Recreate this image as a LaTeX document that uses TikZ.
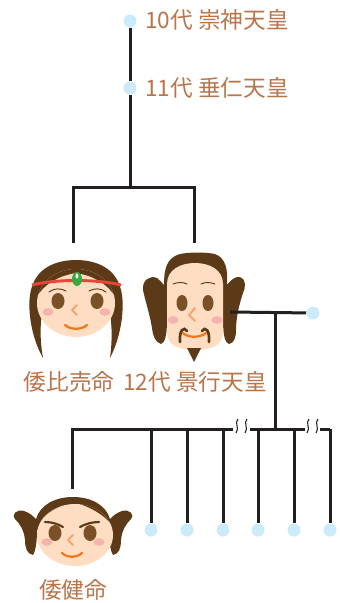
\documentclass[tikz,border=0pt]{standalone}
\usepackage{fontspec}
\newfontfamily\jp{Noto Sans CJK JP}
\definecolor{linec}{RGB}{35,31,32}
\definecolor{dotc}{RGB}{204,235,250}
\definecolor{textc}{RGB}{184,117,74}
\definecolor{hairc}{RGB}{92,58,23}
\definecolor{skinc}{RGB}{255,221,194}
\definecolor{eyec}{RGB}{122,80,38}
\definecolor{cheekc}{RGB}{246,178,172}
\definecolor{mouthc}{RGB}{242,120,28}
\definecolor{nosec}{RGB}{245,165,110}
\definecolor{bandc}{RGB}{232,70,55}
\definecolor{gemc}{RGB}{55,170,60}
\tikzset{
  link/.style={draw=linec, line width=2.25pt},
  dot/.style={circle, fill=dotc, inner sep=0pt, minimum size=9.75pt},
  lbl/.style={text=textc, inner sep=0pt, font=\jp\fontsize{17}{20}\selectfont},
  wave/.style={draw=linec, line width=0.8pt},
  brow/.style={draw=hairc, line width=0.7pt, line cap=round},
  nose/.style={draw=nosec, line width=1.5pt, line cap=round, line join=round},
  mouth/.style={draw=mouthc, line width=1.7pt, line cap=round},
}
\begin{document}
\begin{tikzpicture}[x=0.75pt,y=-0.75pt]
\useasboundingbox (0,0) rectangle (339,603);

% ---------- upper generations ----------
\node[dot] (g10) at (130,21) {};
\node[lbl, anchor=west] (n10) at (145,20) {10代 崇神天皇};
\node[dot] (g11) at (130,88) {};
\node[lbl, anchor=west] (n11) at (145,88) {11代 垂仁天皇};
\coordinate (j1) at (130,187);
\coordinate (hL) at (73,187);
\coordinate (hR) at (194,187);
\coordinate (hime) at (73,243);
\coordinate (kei) at (194,243);
\draw[link] (g10) -- (g11) -- (j1);
\draw[link] (hime) -- (hL) -- (hR) -- (kei);

% ---------- Yamatohime face ----------
\fill[hairc] (43,358) .. controls (30,335) and (27,305) .. (31,290)
  .. controls (36,268) and (56,260) .. (76,260)
  .. controls (96,260) and (116,268) .. (121,290)
  .. controls (125,305) and (122,335) .. (110,358)
  .. controls (113,335) and (112,315) .. (106,300) -- (46,300)
  .. controls (40,315) and (39,335) .. (43,358) -- cycle;
\fill[skinc] (76,303) ellipse [x radius=39, y radius=34];
\begin{scope}
  \clip (76,303) ellipse [x radius=39, y radius=34];
  \fill[hairc] (36,298) .. controls (45,282) and (62,275) .. (76,273)
    .. controls (90,275) and (107,282) .. (116,298) -- (120,260) -- (32,260) -- cycle;
\end{scope}
\draw[bandc, line width=2.2pt] (32,285) .. controls (55,279) and (97,279) .. (121,285);
\fill[gemc] (77,279) ellipse [x radius=5, y radius=7];
\fill[white] (77,276) ellipse [x radius=1.4, y radius=2.6];
\draw[brow] (49,292) .. controls (54,288) and (61,288) .. (66,291);
\draw[brow] (89,291) .. controls (94,288) and (101,288) .. (106,292);
\fill[eyec] (58,301) ellipse [x radius=6.5, y radius=8];
\fill[eyec] (97,301) ellipse [x radius=6.5, y radius=8];
\fill[cheekc] (48,312) ellipse [x radius=5.5, y radius=3.8];
\fill[cheekc] (105,312) ellipse [x radius=5.5, y radius=3.8];
\draw[nose] (77,305) -- (72,310) -- (77,315);
\draw[mouth] (65,325) .. controls (70,330) and (82,330) .. (87,325);

% ---------- Keiko face ----------
\fill[hairc] (161,344) .. controls (155,342) and (153,336) .. (152,328)
  .. controls (150,315) and (145,300) .. (143,290)
  .. controls (142,280) and (150,275) .. (157,278)
  .. controls (160,280) and (162,283) .. (164,285)
  .. controls (164,270) and (166,258) .. (180,254)
  .. controls (190,252) and (205,252) .. (215,254)
  .. controls (226,258) and (228,270) .. (227,285)
  .. controls (230,281) and (235,276) .. (240,277)
  .. controls (246,279) and (246,287) .. (243,293)
  .. controls (239,305) and (236,318) .. (236,330)
  .. controls (236,338) and (234,343) .. (229,344)
  .. controls (225,343) and (223,335) .. (223,320) -- (167,320)
  .. controls (167,335) and (165,343) .. (161,344) -- cycle;
\fill[skinc] (167,300) -- (167,284) .. controls (167,270) and (180,263) .. (195,263)
  .. controls (210,263) and (223,270) .. (223,284) -- (223,332)
  .. controls (223,345) and (212,350) .. (195,350)
  .. controls (178,350) and (167,345) .. (167,332) -- cycle;
\draw[brow] (173,284) .. controls (178,282) and (183,282) .. (187,284);
\draw[brow] (201,284) .. controls (205,282) and (210,282) .. (215,284);
\fill[eyec] (182,303) ellipse [x radius=5.5, y radius=8];
\fill[eyec] (208,303) ellipse [x radius=5.5, y radius=8];
\fill[cheekc] (173,320) ellipse [x radius=5.5, y radius=3.8];
\fill[cheekc] (217,320) ellipse [x radius=5.5, y radius=3.8];
\draw[nose] (195,308) -- (189,315) -- (195,321);
\draw[mouth] (183,333) .. controls (188,338) and (200,338) .. (206,333);
\draw[hairc, line width=2pt, line cap=round] (187,331) .. controls (184,326) and (179,330) .. (180,342);
\draw[hairc, line width=2pt, line cap=round] (202,331) .. controls (205,326) and (210,330) .. (209,342);
\fill[hairc] (187,348) -- (201,348) -- (194,362) -- cycle;

\node[lbl] (nhime) at (69,382) {倭比売命};
\node[lbl] (nkei) at (195,382) {12代 景行天皇};

% ---------- consort and children ----------
\coordinate (keiR) at (230,312);
\node[dot] (wife) at (313,313) {};
\draw[link] (keiR) -- (wife);
\coordinate (j2) at (275,312);
\coordinate (j3) at (275,429);
\draw[link] (j2) -- (j3);

\coordinate (take) at (72,489);
\coordinate (bL) at (72,429);
\coordinate (bR) at (330,429);
\draw[link] (take) -- (bL) -- (233,429);
\draw[link] (250,429) -- (305,429);
\draw[link] (320,429) -- (bR);
\foreach \x in {237,246,308,317}
  \draw[wave] (\x+1,419) .. controls (\x-3,423) and (\x+3,428) .. (\x-1,433);

\foreach \x [count=\i] in {151,187,223,258,294,330} {
  \node[dot] (c\i) at (\x,530) {};
  \coordinate (b\i) at (\x,429);
  \draw[link] (b\i) -- (c\i);
}

% ---------- Yamatotakeru face ----------
\fill[hairc] (33,555) .. controls (27,554) and (25,548) .. (25,540)
  .. controls (24,530) and (20,524) .. (15,519)
  .. controls (11,514) and (17,509) .. (24,511)
  .. controls (30,513) and (33,516) .. (36,519)
  .. controls (40,505) and (55,497) .. (73,497)
  .. controls (91,497) and (106,505) .. (110,519)
  .. controls (113,516) and (116,513) .. (122,511)
  .. controls (129,509) and (135,514) .. (131,519)
  .. controls (126,524) and (122,530) .. (121,540)
  .. controls (121,548) and (119,554) .. (113,555)
  .. controls (110,550) and (109,540) .. (109,530) -- (37,530)
  .. controls (37,540) and (36,550) .. (33,555) -- cycle;
\fill[skinc] (75,535) ellipse [x radius=38, y radius=31];
\begin{scope}
  \clip (75,535) ellipse [x radius=38, y radius=31];
  \fill[hairc] (37,526) .. controls (45,511) and (62,505) .. (73,502)
    .. controls (84,505) and (101,511) .. (113,526) -- (115,495) -- (35,495) -- cycle;
\end{scope}
\draw[hairc, line width=1.6pt, line cap=round] (45,522) .. controls (52,522) and (58,524) .. (63,527);
\draw[hairc, line width=1.6pt, line cap=round] (80,527) .. controls (85,524) and (92,522) .. (99,522);
\fill[eyec] (55,533) ellipse [x radius=6.5, y radius=8];
\fill[eyec] (90,533) ellipse [x radius=6.5, y radius=8];
\fill[cheekc] (47,542) ellipse [x radius=5.5, y radius=3.8];
\fill[cheekc] (99,542) ellipse [x radius=5.5, y radius=3.8];
\draw[nose] (73,535) -- (68,540) -- (73,545);
\draw[mouth] (62,553) .. controls (67,558) and (77,558) .. (82,553);

\node[lbl] (ntake) at (73,590) {倭健命};
\end{tikzpicture}
\end{document}
